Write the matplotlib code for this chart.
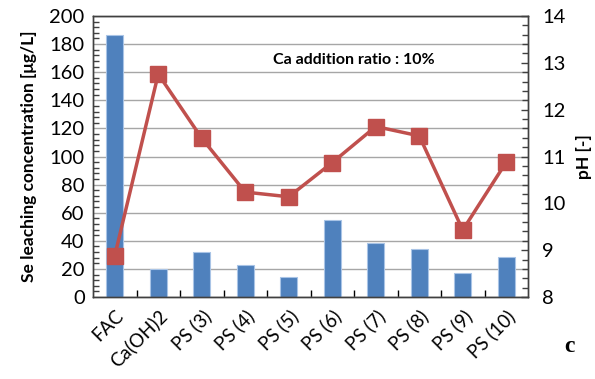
import matplotlib
matplotlib.use("Agg")
import matplotlib.pyplot as plt
from matplotlib.ticker import MultipleLocator
import numpy as np

plt.rcParams['font.family'] = ['Lato', 'DejaVu Sans']

categories = ["FAC", "Ca(OH)2", "PS (3)", "PS (4)", "PS (5)", "PS (6)",
              "PS (7)", "PS (8)", "PS (9)", "PS (10)"]
se_conc = [186.5, 20.0, 31.8, 22.8, 14.0, 54.8, 38.2, 34.2, 17.3, 28.5]
ph_values = [8.88, 12.76, 11.39, 10.24, 10.14, 10.87, 11.64, 11.44, 9.43, 10.88]

bar_color = "#4F81BD"
line_color = "#C0504D"

fig = plt.figure(figsize=(5.95, 3.79), dpi=100)
ax = fig.add_axes([93 / 595, 1 - 297 / 379, 435 / 595, 281 / 379])
x = np.arange(len(categories))

ax.bar(x, se_conc, width=0.4, color=bar_color, edgecolor="#A9C4E6",
       linewidth=0.8, zorder=2)
ax.set_xlim(-0.5, len(categories) - 0.5)
ax.set_ylim(0, 200)
ax.yaxis.set_major_locator(MultipleLocator(20))
ax.yaxis.set_minor_locator(MultipleLocator(4))
ax.grid(axis="y", which="major", color="#A6A6A6", linewidth=1.0, zorder=0)
ax.set_axisbelow(True)

ax.set_xticks(x)
ax.set_xticklabels(categories, rotation=45, ha="right", rotation_mode="anchor",
                   fontsize=13.5)
ax.tick_params(axis="x", which="major", length=0, pad=7)
ax.set_xticks(np.arange(0.5, len(categories) - 0.5, 1), minor=True)
ax.tick_params(axis="x", which="minor", direction="in", length=5,
               width=1, color="black")
ax.tick_params(axis="y", which="major", length=0, labelsize=14.5, pad=6)
ax.tick_params(axis="y", which="minor", direction="in", length=4,
               width=1, color="#404040")
ax.set_ylabel("Se leaching concentration [μg/L]", fontsize=12.5,
              fontweight="bold", labelpad=9)

for s in ax.spines.values():
    s.set_color("#404040")
    s.set_linewidth(1.0)

ax2 = ax.twinx()
ax2.plot(x, ph_values, color=line_color, linewidth=2.5, marker="s",
         markersize=11, markerfacecolor=line_color, markeredgecolor=line_color,
         zorder=3)
ax2.set_ylim(8, 14)
ax2.yaxis.set_major_locator(MultipleLocator(1))
ax2.yaxis.set_minor_locator(MultipleLocator(0.2))
ax2.tick_params(axis="y", which="major", direction="in", length=5,
                width=1, color="#404040", labelsize=14.5, pad=10)
ax2.tick_params(axis="y", which="minor", direction="in", length=4,
                width=1, color="#404040")
ax2.set_ylabel("pH [-]", fontsize=12.5, fontweight="bold", labelpad=8)
for s in ax2.spines.values():
    s.set_color("#404040")
    s.set_linewidth(1.0)

ax.text(0.414, 0.843, "Ca addition ratio : 10%", transform=ax.transAxes,
        fontsize=11.5, fontweight="bold", ha="left", va="center")

fig.text(569 / 595, 1 - 347 / 379, "c", fontsize=17, fontweight="bold",
         family="Liberation Serif", ha="center", va="center")

fig.savefig("out.png", dpi=100)
